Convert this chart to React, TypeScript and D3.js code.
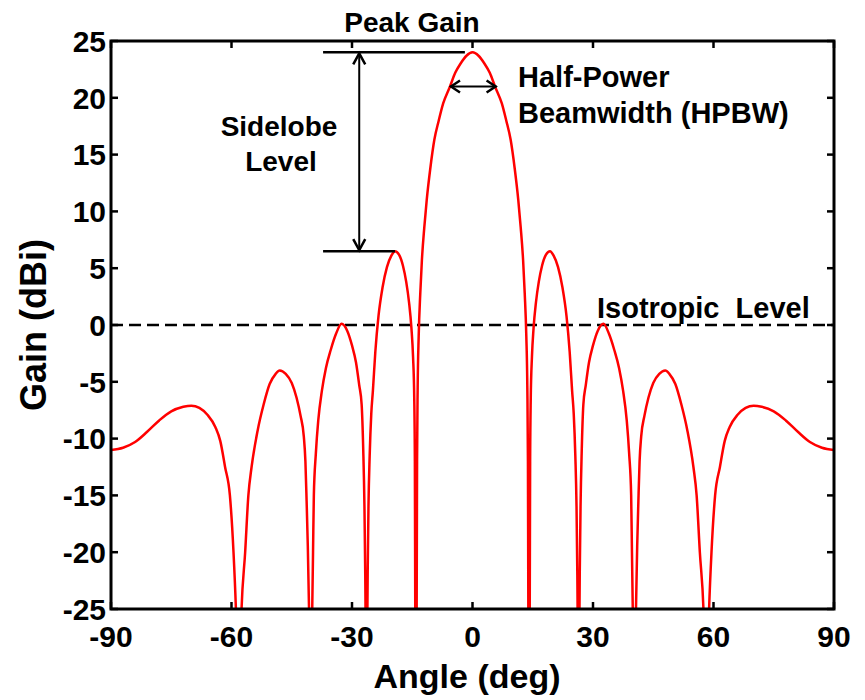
import * as d3 from 'd3';

// radiation pattern, angle in degrees
const angleDeg = [
  -90, -87, -84, -81, -78, -75, -72, -70, -68, -66, -64, -62.8, -61.6, -60.4, -59.5, -58.9, -58.2,
  -57.5, -56.6, -55.8, -55.0, -53.5, -52, -50.5, -49, -48, -46.5, -45, -43.8, -42.8, -42.0, -41.6,
  -41.3, -41.0, -40.7, -40.3, -39.9, -39.7, -39.5, -39.0, -38.4, -37.5, -36.5, -35.3, -34, -32.6,
  -31.2, -30, -29, -28.2, -27.6, -27.2, -26.9, -26.7, -26.4, -26.1, -25.9, -25.6, -25.2, -24.8,
  -24.2, -23.4, -22.4, -21.3, -20.2, -19.3, -18.3, -17.3, -16.5, -15.8, -15.2, -14.8, -14.5,
  -14.35, -14.25, -14.1, -13.9, -13.8, -13.65, -13.4, -13.0, -12.6, -12.0, -11.4, -10.5, -9.5,
  -8.4, -7.3, -5.6, -4.3, -3.0, -1.5, 0,
  1.5, 3.0, 4.3, 5.6, 7.3, 8.4, 9.5, 10.5, 11.4, 12.0, 12.6, 13.0, 13.4, 13.65, 13.8, 13.9, 14.1,
  14.25, 14.35, 14.5, 14.8, 15.2, 15.8, 16.5, 17.3, 18.3, 19.3, 20.2, 21.3, 22.4, 23.4, 24.2, 24.8,
  25.2, 25.6, 25.9, 26.1, 26.4, 26.7, 26.9, 27.2, 27.6, 28.2, 29, 30, 31.2, 32.6, 34, 35.3, 36.5,
  37.5, 38.4, 39.0, 39.5, 39.7, 39.9, 40.3, 40.7, 41.0, 41.3, 41.6, 42.0, 42.8, 43.8, 45, 46.5, 48,
  49, 50.5, 52, 53.5, 55.0, 55.8, 56.6, 57.5, 58.2, 58.9, 59.5, 60.4, 61.6, 62.8, 64, 66, 68, 70,
  72, 75, 78, 81, 84, 87, 90,
];

const gainDbi = [
  -11.0, -10.8, -10.3, -9.4, -8.4, -7.6, -7.2, -7.1, -7.3, -7.9, -9.0, -10.2, -12.5, -15.0, -20.0, -25.0, -34,
  -25.0, -20.0, -15.0, -12.5, -9.3, -7.0, -5.2, -4.3, -4.0, -4.3, -5.1, -6.4, -8.0, -9.8, -12.0,
  -15.5, -19.5, -25.0, -34, -25.0, -20.0, -15.0, -11.3, -8.4, -5.8, -3.8, -2.2, -0.8, 0.1,
  -0.5, -1.8, -3.3, -5.3, -7.0, -11.0, -16.0, -22.0, -34, -22.0, -16.0, -11.5, -7.8, -5.8,
  -2.4, 0.8, 3.3, 5.1, 6.1, 6.5, 6.2, 5.2, 3.8, 2.0, -0.3, -2.8, -6.5,
  -12.0, -25.0, -34, -25.0, -12.0, -5.5, -1.0, 2.8, 5.7, 8.6, 11.0, 13.8, 16.3,
  18.0, 19.5, 21.0, 22.2, 23.0, 23.7, 24.0,
  23.7, 23.0, 22.2, 21.0, 19.5, 18.0, 16.3, 13.8, 11.0, 8.6, 5.7, 2.8, -1.0, -5.5, -12.0, -25.0, -34,
  -25.0, -12.0, -6.5, -2.8, -0.3, 2.0, 3.8, 5.2, 6.2, 6.5, 6.1, 5.1, 3.3, 0.8, -2.4, -5.8,
  -7.8, -11.5, -16.0, -22.0, -34, -22.0, -16.0, -11.0, -7.0, -5.3, -3.3, -1.8, -0.5, 0.1, -0.8, -2.2, -3.8,
  -5.8, -8.4, -11.3, -15.0, -20.0, -25.0, -34, -25.0, -19.5, -15.5, -12.0, -9.8, -8.0, -6.4, -5.1, -4.3, -4.0,
  -4.3, -5.2, -7.0, -9.3, -12.5, -15.0, -20.0, -25.0, -34, -25.0, -20.0, -15.0, -12.5, -10.2, -9.0, -7.9, -7.3, -7.1,
  -7.2, -7.6, -8.4, -9.4, -10.3, -10.8, -11.0,
];

const xTicks = [-90, -60, -30, 0, 30, 60, 90];
const yTicks = [25, 20, 15, 10, 5, 0, -5, -10, -15, -20, -25];

// annotation values
const peakGain = 24;
const sidelobeGain = 6.5;
const halfPowerGain = 21;
const hpbwEdges = [-5.6, 6.0];
const peakLineFrom = -37.2;
const sidelobeLineTo = -19.3;
const levelArrowAt = -28.2;
const isotropicGain = 0;

const width = 865;
const height = 700;
const margin = { top: 41, right: 31, bottom: 91, left: 111 };
const font = '"Liberation Sans", Arial, Helvetica, sans-serif';

export default function App() {
  const x = d3.scaleLinear().domain([-90, 90]).range([margin.left, width - margin.right]);
  const y = d3.scaleLinear().domain([-25, 25]).range([height - margin.bottom, margin.top]);

  const points = angleDeg.map((a, i) => [a, gainDbi[i]] as [number, number]);
  const line = d3.line<[number, number]>()
    .x(d => x(d[0]))
    .y(d => y(d[1]))
    .curve(d3.curveMonotoneX);

  const left = x(-90);
  const right = x(90);
  const top = y(25);
  const bottom = y(-25);
  const tick = 7;

  const arrowX = x(levelArrowAt);
  const yPeak = y(peakGain);
  const ySide = y(sidelobeGain);
  const yHp = y(halfPowerGain);
  const hp0 = x(hpbwEdges[0]);
  const hp1 = x(hpbwEdges[1]);

  return (
    <svg width={width} height={height} style={{ position: 'absolute', left: 0, top: 0, background: '#fff' }}
      fontFamily={font} fontWeight="bold">
      <defs>
        <clipPath id="plot-clip">
          <rect x={left} y={top} width={right - left} height={bottom - top} />
        </clipPath>
      </defs>

      {/* isotropic level */}
      <line x1={left} x2={right} y1={y(isotropicGain)} y2={y(isotropicGain)}
        stroke="#000" strokeWidth={2.5} strokeDasharray="12,6" />

      <path d={line(points) ?? ''} fill="none" stroke="#ff0000" strokeWidth={2.5}
        clipPath="url(#plot-clip)" strokeLinejoin="round" />

      {/* ticks on all four sides */}
      {xTicks.map(t => (
        <g key={'xt' + t}>
          <line x1={x(t)} x2={x(t)} y1={bottom} y2={bottom - tick} stroke="#000" strokeWidth={2.5} />
          <line x1={x(t)} x2={x(t)} y1={top} y2={top + tick} stroke="#000" strokeWidth={2.5} />
          <text x={x(t)} y={bottom + 38} textAnchor="middle" fontSize={30} fill="#000">{t}</text>
        </g>
      ))}
      {yTicks.map(t => (
        <g key={'yt' + t}>
          <line x1={left} x2={left + tick} y1={y(t)} y2={y(t)} stroke="#000" strokeWidth={2.5} />
          <line x1={right} x2={right - tick} y1={y(t)} y2={y(t)} stroke="#000" strokeWidth={2.5} />
          <text x={left - 5} y={y(t)} dy="0.36em" textAnchor="end" fontSize={30} fill="#000">{t}</text>
        </g>
      ))}

      <rect x={left} y={top} width={right - left} height={bottom - top} fill="none" stroke="#000" strokeWidth={3} />

      {/* axis titles */}
      <text x={467} y={688} textAnchor="middle" fontSize={34} fill="#000">Angle (deg)</text>
      <text transform={`translate(46,${(top + bottom) / 2}) rotate(-90)`} textAnchor="middle" fontSize={36} fill="#000">
        Gain (dBi)
      </text>

      {/* sidelobe level annotation */}
      <line x1={x(peakLineFrom)} x2={x(-1.9)} y1={yPeak} y2={yPeak} stroke="#000" strokeWidth={2.5} />
      <line x1={x(peakLineFrom)} x2={x(sidelobeLineTo)} y1={ySide} y2={ySide} stroke="#000" strokeWidth={2.5} />
      <line x1={arrowX} x2={arrowX} y1={yPeak + 1} y2={ySide - 1} stroke="#000" strokeWidth={2} />
      <path d={`M${arrowX - 6},${yPeak + 12} L${arrowX},${yPeak + 1} L${arrowX + 6},${yPeak + 12}`}
        fill="none" stroke="#000" strokeWidth={2.5} />
      <path d={`M${arrowX - 6},${ySide - 12} L${arrowX},${ySide - 1} L${arrowX + 6},${ySide - 12}`}
        fill="none" stroke="#000" strokeWidth={2.5} />

      {/* HPBW arrow */}
      <line x1={hp0} x2={hp1} y1={yHp} y2={yHp} stroke="#000" strokeWidth={2} />
      <path d={`M${hp0 + 10},${yHp - 6} L${hp0 + 1},${yHp} L${hp0 + 10},${yHp + 6}`}
        fill="none" stroke="#000" strokeWidth={2.5} />
      <path d={`M${hp1 - 10},${yHp - 6} L${hp1 - 1},${yHp} L${hp1 - 10},${yHp + 6}`}
        fill="none" stroke="#000" strokeWidth={2.5} />

      {/* labels */}
      <text x={412} y={32} textAnchor="middle" fontSize={28} fill="#000">Peak Gain</text>
      <text x={279} y={136} textAnchor="middle" fontSize={28} fill="#000">Sidelobe</text>
      <text x={281} y={171} textAnchor="middle" fontSize={28} fill="#000">Level</text>
      <text x={518} y={87} fontSize={29} fill="#000">Half-Power</text>
      <text x={518} y={123} fontSize={29} fill="#000">Beamwidth (HPBW)</text>
      <text x={597} y={318} fontSize={29} fill="#000" style={{ whiteSpace: 'pre' }}>Isotropic  Level</text>
    </svg>
  );
}
